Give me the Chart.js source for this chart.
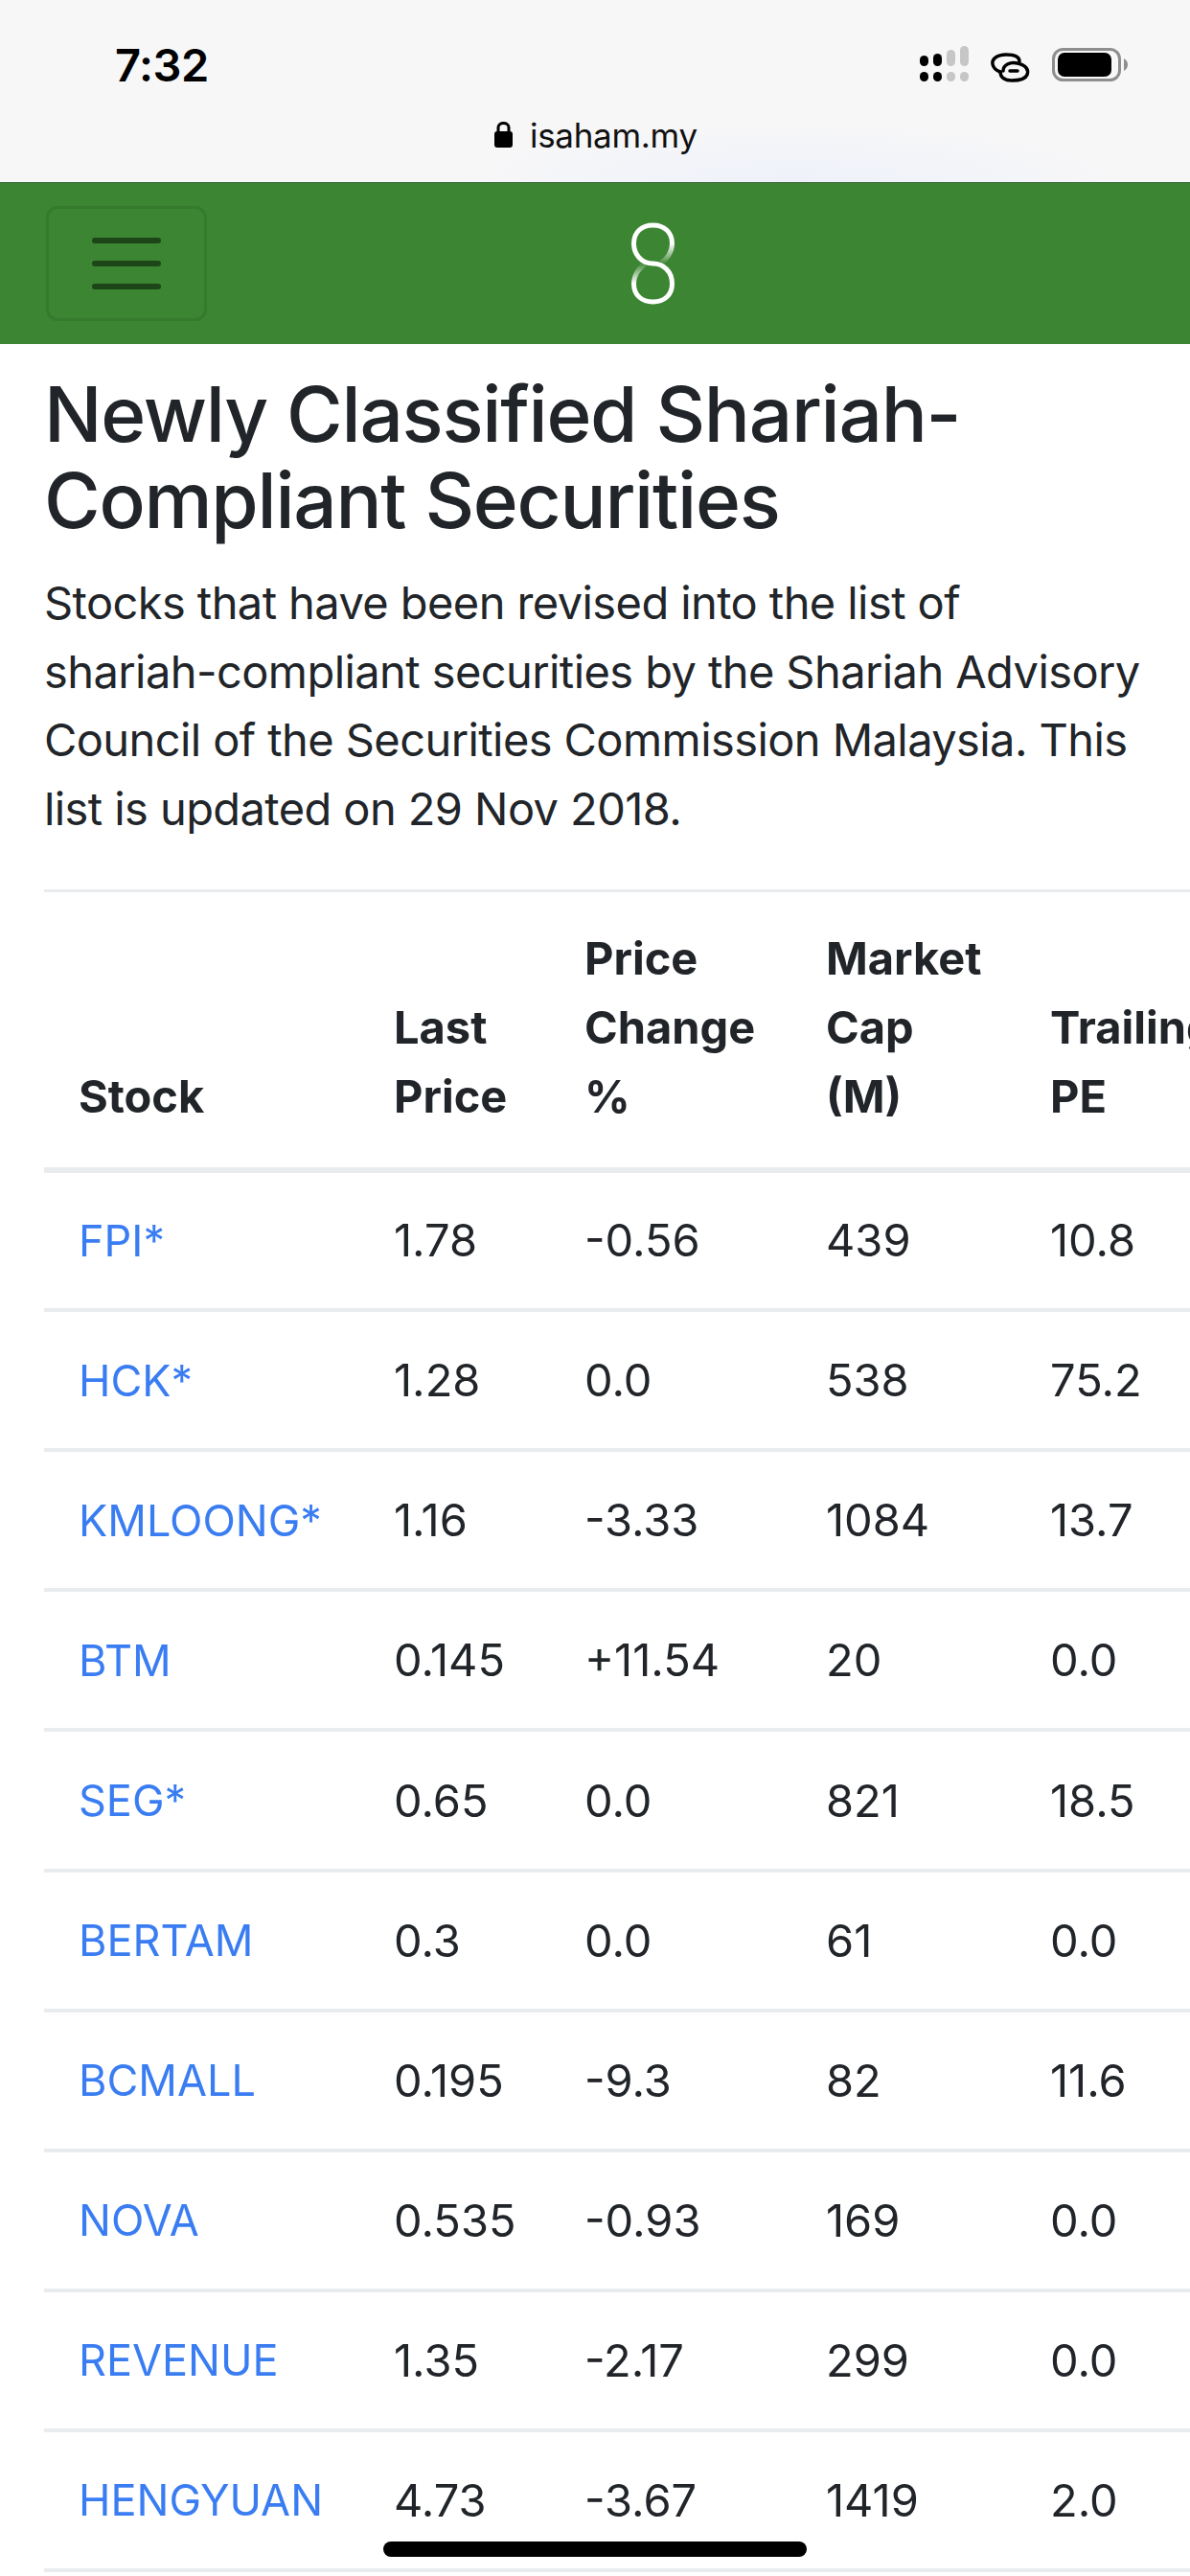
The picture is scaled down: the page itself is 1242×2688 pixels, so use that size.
<!DOCTYPE html>
<html>
<head>
<meta charset="utf-8">
<title>Newly Classified Shariah-Compliant Securities</title>
<script src="https://cdn.jsdelivr.net/npm/chart.js@4"></script>
<style>
  html, body { margin: 0; padding: 0; background: #fff; }
  body { position: relative; width: 1242px; height: 2688px; overflow: hidden; font-family: Inter, "Noto Sans", sans-serif; color: #212529; }
  .abs { position: absolute; white-space: nowrap; }
  #statusbar { left: 0; top: 0; width: 1242px; height: 190px; background: radial-gradient(ellipse 340px 60px at 830px 190px, #eef1fa 0%, #f7f7f8 100%); }
  #nav { left: 0; top: 190px; width: 1242px; height: 169px; background: #3c8532; border-top: 1px solid #39663a; box-sizing: border-box; }
  #toggler { left: 48px; top: 215px; width: 168px; height: 120px; box-sizing: border-box; border: 3px solid #367a2e; border-radius: 12px; }
  .bar { left: 96px; width: 72px; height: 6px; border-radius: 3px; background: #1c4618; }
  #clock { left: 120px; top: 40px; font-size: 47px; line-height: 56px; font-weight: 600; color: #000; letter-spacing: -0.5px; }
  #host { left: 553px; top: 118px; font-size: 35px; line-height: 46px; color: #111; letter-spacing: -0.3px; }
  h1 { margin: 0; font-size: 80px; line-height: 90px; font-weight: 500; left: 46px; top: 387px; letter-spacing: -1.25px; }
  #intro { left: 46px; top: 593px; font-size: 47px; line-height: 71.7px; letter-spacing: -0.58px; }
  #wrap { left: 46px; top: 928px; width: 1196px; height: 1760px; border-top: 3px solid #e9ecef; box-sizing: border-box; }
  #home { left: 400px; top: 2652px; width: 442px; height: 16px; background: #000; border-radius: 8px; }
</style>
</head>
<body>
<div class="abs" id="statusbar"></div>
<div class="abs" id="clock">7:32</div>
<svg class="abs" style="left:0;top:0" width="1242" height="190">
  <g fill="#000">
    <rect x="960" y="58" width="9" height="11" rx="4.5"/><rect x="974" y="56" width="9" height="13" rx="4.5"/>
    <rect x="960" y="75" width="9" height="10" rx="4.5"/><rect x="974" y="75" width="9" height="10" rx="4.5"/>
  </g>
  <g fill="#c6c6c6">
    <rect x="988" y="52" width="9" height="17" rx="4.5"/><rect x="1002" y="48" width="9" height="21" rx="4.5"/>
    <rect x="988" y="75" width="9" height="10" rx="4.5"/><rect x="1002" y="75" width="9" height="10" rx="4.5"/>
  </g>
  <g fill="none" stroke="#000" stroke-width="3.5" stroke-linecap="round">
    <path d="M1064 64 C1064 59 1058 57 1050 57 C1040 57 1035 62 1036 67 C1037 72 1041 74 1044 75"/>
    <path d="M1047 74 C1047 68 1054 64 1062 66 C1071 68 1074 73 1072 78 C1070 83 1063 84 1056 84 C1049 84 1044 81 1044 75"/>
    <path d="M1054 74 H1062"/>
  </g>
  <rect x="1099.5" y="51.5" width="69" height="32" rx="10" fill="none" stroke="#8e8e8e" stroke-width="3"/>
  <rect x="1104" y="55" width="56" height="25" rx="7" fill="#000"/>
  <path d="M1173 61 C1176 63 1177 65 1177 67.5 C1177 70 1176 72 1173 74 Z" fill="#8e8e8e"/>
  <rect x="516" y="137" width="19" height="17" rx="3" fill="#000"/>
  <path d="M520 138 V133 C520 127 531 127 531 133 V138" fill="none" stroke="#000" stroke-width="3"/>
</svg>
<div class="abs" id="host">isaham.my</div>
<div class="abs" id="nav"></div>
<div class="abs" id="toggler"></div>
<div class="abs bar" style="top:248px"></div>
<div class="abs bar" style="top:272px"></div>
<div class="abs bar" style="top:296px"></div>
<svg class="abs" style="left:640px;top:220px" width="84" height="110">
  <defs>
    <linearGradient id="fadeA" x1="0" y1="0" x2="0" y2="1"><stop offset="0" stop-color="#fff"/><stop offset="1" stop-color="#fff" stop-opacity="0.1"/></linearGradient>
    <linearGradient id="fadeB" x1="0" y1="1" x2="0" y2="0"><stop offset="0" stop-color="#fff"/><stop offset="1" stop-color="#fff" stop-opacity="0.1"/></linearGradient>
  </defs>
  <path d="M61.5 34 C61.5 22 53 15 41.5 15 C30 15 21.5 22 21.5 34 C21.5 46 30 55 41.5 55 C53 55 61.5 64 61.5 76 C61.5 88 53 95 41.5 95 C30 95 21.5 88 21.5 76" fill="none" stroke="#fff" stroke-width="5"/>
  <path d="M61.5 34 C61.5 42 57 50 50 54" fill="none" stroke="url(#fadeA)" stroke-width="5"/>
  <path d="M21.5 76 C21.5 68 26 60 33 56" fill="none" stroke="url(#fadeB)" stroke-width="5"/>
</svg>
<h1 class="abs">Newly Classified Shariah-<br>Compliant Securities</h1>
<div class="abs" id="intro">Stocks that have been revised into the list of<br>shariah-compliant securities by the Shariah Advisory<br>Council of the Securities Commission Malaysia. This<br>list is updated on 29 Nov 2018.</div>
<div class="abs" id="wrap"><canvas id="myChart" width="1196" height="1757"></canvas></div>
<div class="abs" id="home"></div>

<script>
const stocks = ["FPI*", "HCK*", "KMLOONG*", "BTM", "SEG*", "BERTAM", "BCMALL", "NOVA", "REVENUE", "HENGYUAN"];
const lastPrice = [1.78, 1.28, 1.16, 0.145, 0.65, 0.3, 0.195, 0.535, 1.35, 4.73];
const priceChange = [-0.56, 0.0, -3.33, 11.54, 0.0, 0.0, -9.3, -0.93, -2.17, -3.67];
const marketCap = [439, 538, 1084, 20, 821, 61, 82, 169, 299, 1419];
const trailingPe = [10.8, 75.2, 13.7, 0.0, 18.5, 0.0, 11.6, 0.0, 0.0, 2.0];
const headers = [["Stock"], ["Last", "Price"], ["Price", "Change", "%"], ["Market", "Cap", "(M)"], ["Trailing", "PE"]];

// left edge of each table column, in canvas px
const columnLeft = [36, 365, 564, 816, 1050];
// text sits a little under the middle of the row in the original
const rowTextDrop = 3;

const formatChange = v => v > 0 ? "+" + v : (v === 0 ? "0.0" : String(v));
const columns = [
    { values: lastPrice, format: String },
    { values: priceChange, format: formatChange },
    { values: marketCap, format: String },
    { values: trailingPe, format: v => v.toFixed(1) },
];

const cellText = {
    id: "cellText",
    afterDatasetsDraw(chart) {
        const ctx = chart.ctx;
        const xs = chart.scales.x;
        const ys = chart.scales.y;
        ctx.save();
        ctx.textAlign = "left";
        ctx.textBaseline = "middle";
        ctx.font = "400 45px Inter";
        ctx.fillStyle = "#3a7df2";
        stocks.forEach(s => {
            ctx.fillText(s, xs.getPixelForValue(columnLeft[0]), ys.getPixelForValue(s) + rowTextDrop);
        });
        ctx.font = "400 47px Inter";
        ctx.fillStyle = "#212529";
        chart.data.datasets.forEach((ds, c) => {
            ds.data.forEach(pt => {
                ctx.fillText(columns[c].format(pt.v), xs.getPixelForValue(pt.x), ys.getPixelForValue(pt.y) + rowTextDrop);
            });
        });
        ctx.restore();
    },
};

const ctx = document.getElementById("myChart").getContext("2d");
new Chart(ctx, {
    type: "scatter",
    data: {
        datasets: columns.map((col, c) => ({
            pointRadius: 0,
            data: col.values.map((v, i) => ({ x: columnLeft[c + 1], y: stocks[i], v: v })),
        })),
    },
    options: {
        responsive: false,
        animation: false,
        layout: { autoPadding: false, padding: { bottom: 6 } },
        plugins: { legend: { display: false }, tooltip: { enabled: false } },
        scales: {
            x: {
                type: "linear",
                position: "top",
                min: 0,
                max: 1196,
                afterBuildTicks: s => { s.ticks = columnLeft.map(v => ({ value: v })); },
                afterFit: s => { s.height = 290; s.paddingLeft = 0; s.paddingRight = 0; },
                grid: { display: false },
                border: { display: true, color: "#e9ecef", width: 6 },
                ticks: {
                    autoSkip: false,
                    maxRotation: 0,
                    minRotation: 0,
                    align: "start",
                    padding: 30,
                    color: "#212529",
                    font: { family: "Inter", size: 47, weight: "700", lineHeight: 1.53 },
                    callback: (v, i) => headers[i],
                },
            },
            y: {
                type: "category",
                labels: stocks,
                position: "left",
                offset: true,
                afterFit: s => { s.width = 0; s.paddingTop = 0; s.paddingBottom = 0; },
                border: { display: false },
                grid: { color: "#e9ecef", lineWidth: 4, drawTicks: false, offset: true },
                ticks: { display: false },
            },
        },
    },
    plugins: [cellText],
});
</script>
</body>
</html>
